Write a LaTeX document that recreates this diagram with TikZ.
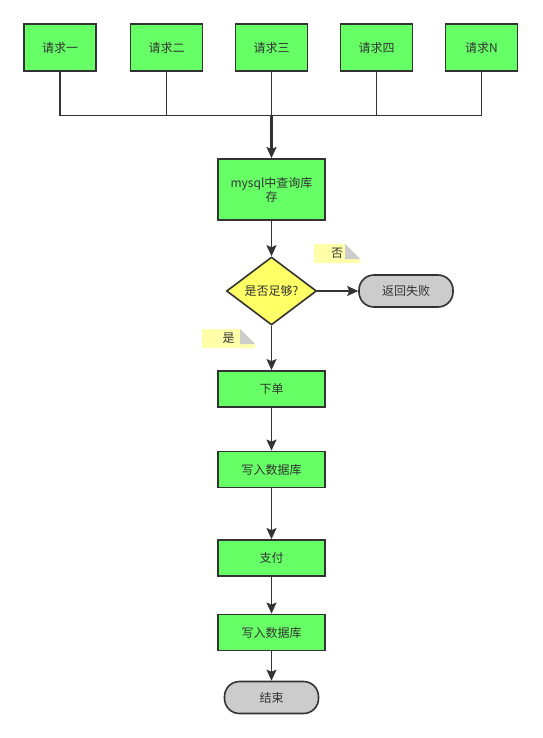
\documentclass[tikz,border=0pt]{standalone}
\usepackage{fontspec}
\setmainfont{Noto Sans CJK SC}
\usetikzlibrary{shapes.geometric,arrows.meta}
\definecolor{boxgreen}{HTML}{66FF66}
\definecolor{dyellow}{HTML}{FFFF66}
\definecolor{termgray}{HTML}{CCCCCC}
\definecolor{notey}{HTML}{FFFFAA}
\definecolor{ink}{HTML}{333333}
\tikzset{
  x=1pt, y=1pt,
  every node/.style={font=\fontsize{12}{14}\selectfont, text=ink},
  procbox/.style={draw=ink, line width=1.8pt, fill=boxgreen, minimum width=107pt, minimum height=36pt, inner sep=0pt, align=center},
  reqbox/.style={procbox, minimum width=72pt, minimum height=47pt},
  decision/.style={diamond, draw=ink, line width=1.6pt, fill=dyellow, minimum width=90pt, minimum height=68pt, aspect=1.32, inner sep=0pt},
  terminal/.style={draw=ink, line width=1.6pt, fill=termgray, rounded corners=15pt, minimum width=94pt, minimum height=32pt, inner sep=0pt},
  notebox/.style={minimum height=19pt, inner sep=0pt,
    path picture={
      \fill[notey] (path picture bounding box.south west) -- (path picture bounding box.south east)
        -- ([yshift=-15pt]path picture bounding box.north east) -- ([xshift=-15pt]path picture bounding box.north east)
        -- (path picture bounding box.north west) -- cycle;
      \fill[termgray] ([xshift=-15pt]path picture bounding box.north east) -- ([xshift=-15pt,yshift=-15pt]path picture bounding box.north east)
        -- ([yshift=-15pt]path picture bounding box.north east) -- cycle;
    }},
  arr/.style={draw=ink, line width=1.5pt, -{Stealth[length=11pt,width=10pt,inset=2pt]}},
  busline/.style={draw=ink, line width=1.5pt}
}
\begin{document}
\begin{tikzpicture}
\useasboundingbox (0,0) rectangle (542,-738);
\node[reqbox] (r1) at (60,-47.5) {请求一};
\node[reqbox] (r2) at (166.5,-47.5) {请求二};
\node[reqbox] (r3) at (271.5,-47.5) {请求三};
\node[reqbox] (r4) at (376.5,-47.5) {请求四};
\node[reqbox] (r5) at (481.5,-47.5) {请求N};
\coordinate (bus) at (271.5,-115.5);
\node[procbox, minimum height=61pt] (m) at (271.5,-189.5) {mysql中查询库\\存};
\node[decision] (d) at (271.5,-291) {是否足够?};
\node[terminal] (f) at (406,-291) {返回失败};
\node[notebox, minimum width=46pt] (nno) at (337,-253.5) {否};
\node[notebox, minimum width=53pt] (nyes) at (228.5,-338.5) {是};
\node[procbox] (o) at (271.5,-389) {下单};
\node[procbox] (w1) at (271.5,-469.5) {写入数据库};
\node[procbox] (p) at (271.5,-558) {支付};
\node[procbox] (w2) at (271.5,-632.5) {写入数据库};
\node[terminal] (e) at (271.5,-697.5) {结束};
\draw[busline] (r1.south) |- (bus);
\draw[busline] (r2.south) |- (bus);
\draw[busline] (r4.south) |- (bus);
\draw[busline] (r5.south) |- (bus);
\draw[busline] (r3.south) -- (bus);
\draw[arr, line width=2.6pt] (bus) -- (m.north);
\draw[arr] (m) -- (d);
\draw[arr] (d) -- (f);
\draw[arr] (d) -- (o);
\draw[arr] (o) -- (w1);
\draw[arr] (w1) -- (p);
\draw[arr] (p) -- (w2);
\draw[arr] (w2) -- (e);
\end{tikzpicture}
\end{document}
